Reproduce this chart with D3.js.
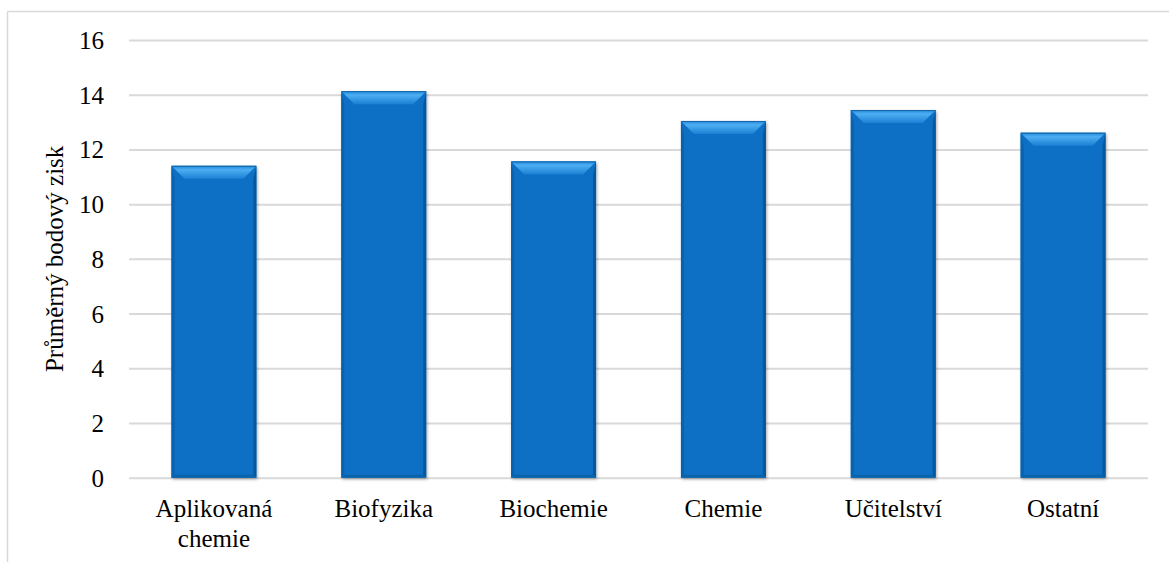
<!DOCTYPE html>
<html><head><meta charset="utf-8">
<script src="https://cdn.jsdelivr.net/npm/d3@7"></script>
<style>html,body{margin:0;padding:0;background:#fff;} svg{display:block;} text{font-family:"Liberation Serif","Times New Roman",Times,"DejaVu Serif",serif;}</style>
</head><body>
<svg id="c" width="1169" height="562"></svg>
<script>
const categories = [["Aplikovaná","chemie"],["Biofyzika"],["Biochemie"],["Chemie"],["Učitelství"],["Ostatní"]];
const values = [11.4, 14.13, 11.56, 13.04, 13.44, 12.61];
const yTicks = [0,2,4,6,8,10,12,14,16];
const yTitle = "Průměrný bodový zisk";

const svg = d3.select("#c");
const fs = 25;
const plotLeft = 129, plotRight = 1148, plotTop = 40, plotBottom = 477.7;

// frame
svg.append("line").attr("x1",7.5).attr("x2",7.5).attr("y1",11.5).attr("y2",562).attr("stroke","#d9d9d9").attr("stroke-width",1.5);
svg.append("line").attr("x1",7.5).attr("x2",1169).attr("y1",11.5).attr("y2",11.5).attr("stroke","#d9d9d9").attr("stroke-width",1.5);

const y = d3.scaleLinear().domain([0,16]).range([plotBottom, plotTop]);
const x = d3.scaleBand().domain(categories.map(d=>d.join(" "))).range([plotLeft,plotRight]).paddingInner(0.5).paddingOuter(0.25);

const defs = svg.append("defs");
const f = defs.append("filter").attr("id","sh").attr("x","-20%").attr("y","-20%").attr("width","140%").attr("height","140%");
f.append("feDropShadow").attr("dx",1).attr("dy",1.5).attr("stdDeviation",1.5).attr("flood-color","#000").attr("flood-opacity",0.35);

const gTop = defs.append("linearGradient").attr("id","gt").attr("x1",0).attr("y1",0).attr("x2",0).attr("y2",1);
gTop.append("stop").attr("offset",0).attr("stop-color","#1f86da");
gTop.append("stop").attr("offset",0.3).attr("stop-color","#4eaef2");
gTop.append("stop").attr("offset",1).attr("stop-color","#1a80d4");

// y axis gridlines + labels
const yAxis = d3.axisLeft(y).tickValues(yTicks).tickSize(-(plotRight-plotLeft)).tickPadding(25).tickFormat(d3.format("d"));
const ga = svg.append("g").attr("transform",`translate(${plotLeft},0)`).call(yAxis);
ga.select(".domain").remove();
ga.attr("font-family",null);
ga.selectAll(".tick line").attr("stroke","#d9d9d9").attr("stroke-width",2);
ga.selectAll(".tick text").attr("font-size",fs).attr("fill","#000").attr("dy","0.34em");

// bars
const bw = x.bandwidth();
const bars = svg.append("g").selectAll("g").data(values).join("g")
  .attr("transform",(d,i)=>`translate(${x(categories[i].join(" "))},${y(d)})`);
bars.append("rect").attr("width",bw).attr("height",d=>plotBottom-y(d)).attr("fill","#0770c4").attr("filter","url(#sh)");
const b = 13, s = 3, c = 13;
bars.append("path").attr("d",d=>{const h=plotBottom-y(d);return `M0,0 L${s},${b} L${s},${h-s} L0,${h} Z`;}).attr("fill","#0962ad");
bars.append("path").attr("d",d=>{const h=plotBottom-y(d);return `M${bw},0 L${bw-s},${b} L${bw-s},${h-s} L${bw},${h} Z`;}).attr("fill","#06579b");
bars.append("path").attr("d",d=>{const h=plotBottom-y(d);return `M0,${h} L${s},${h-s} L${bw-s},${h-s} L${bw},${h} Z`;}).attr("fill","#0a62aa");
bars.append("path").attr("d",`M0,0 L${bw},0 L${bw-c},${b} L${c},${b} Z`).attr("fill","url(#gt)");
bars.append("line").attr("x1",0).attr("x2",bw).attr("y1",0.5).attr("y2",0.5).attr("stroke","#1566a8").attr("stroke-width",1);

// x labels
const xl = svg.append("g");
categories.forEach(cat=>{
  const cx = x(cat.join(" "))+bw/2;
  const t = xl.append("text").attr("x",cx).attr("y",517).attr("text-anchor","middle")
    .attr("font-size",fs).attr("fill","#000");
  cat.forEach((line,k)=>t.append("tspan").attr("x",cx).attr("dy",k===0?0:30).text(line));
});

// y title
svg.append("text").attr("transform",`translate(63,${(plotTop+plotBottom)/2}) rotate(-90)`).attr("text-anchor","middle")
  .attr("font-size",fs).attr("fill","#000").text(yTitle);
</script>
</body></html>
